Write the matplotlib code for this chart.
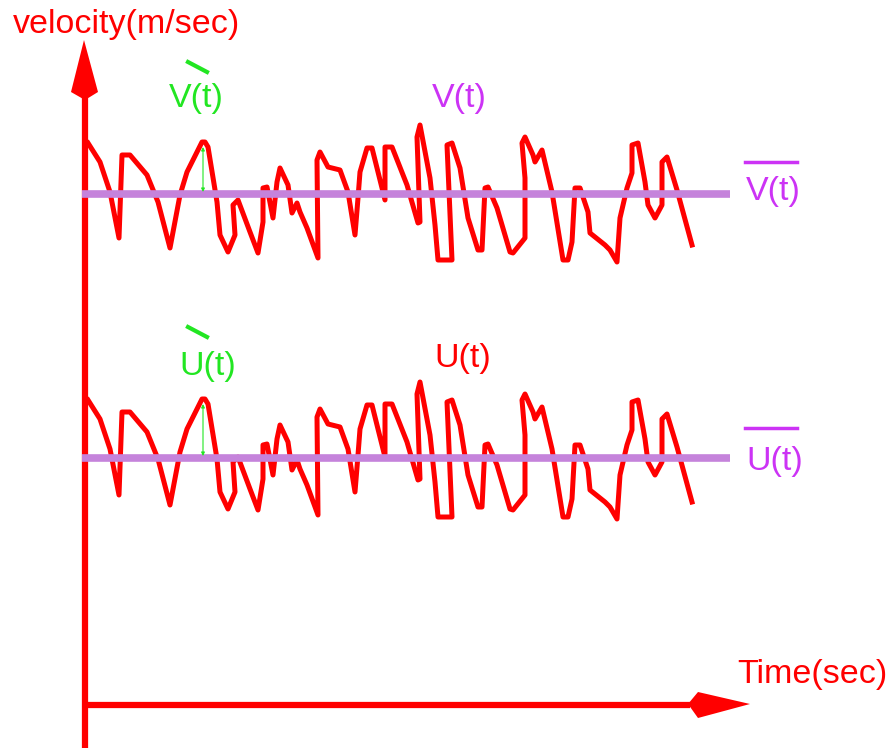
import numpy as np
import matplotlib.pyplot as plt
from matplotlib.patches import Polygon

plt.rcParams['font.family'] = ['Liberation Sans', 'DejaVu Sans']

# wave: time (px) and value (px, screen y of the upper trace)
t = [88, 100, 110, 119, 122, 130, 147, 158, 170, 180, 187, 202, 205, 208, 217, 220,
     228, 235, 233, 238, 250, 258, 263, 263, 267, 273, 277, 280, 288, 292, 297, 300,
     307, 318, 317, 320, 328, 340, 348, 355, 358, 360, 367, 372, 385, 385, 392, 407,
     418, 420, 417, 420, 430, 435, 438, 452, 447, 452, 460, 468, 478, 482, 485, 488,
     497, 510, 513, 525, 525, 522, 525, 533, 535, 542, 552, 563, 568, 572, 575, 580,
     588, 590, 605, 610, 617, 620, 627, 632, 632, 638, 645, 648, 655, 662, 662, 667,
     677, 692]
v = [143, 162, 192, 238, 155, 155, 175, 202, 248, 195, 172, 142, 142, 147, 202, 235,
     252, 235, 205, 200, 232, 253, 222, 188, 187, 218, 182, 168, 185, 213, 203, 212,
     228, 258, 160, 152, 167, 170, 192, 235, 198, 172, 148, 148, 200, 147, 147, 185,
     223, 222, 137, 125, 178, 225, 260, 260, 145, 143, 168, 218, 250, 250, 188, 187,
     208, 252, 253, 238, 178, 143, 137, 155, 162, 150, 192, 260, 260, 242, 188, 188,
     212, 233, 245, 250, 262, 218, 188, 173, 145, 143, 182, 205, 218, 205, 162, 157,
     190, 245]
wave_base = [0, 257]          # shift of upper / lower trace
mean_y = [194, 458]           # mean lines
mean_x = [82, 730]

red = '#ff0000'
green = '#22e622'
purple = '#cc33f5'
meanc = '#c583db'

fig = plt.figure(figsize=(8.93, 7.48), dpi=100)
ax = fig.add_axes([0, 0, 1, 1])
ax.set_xlim(0, 893)
ax.set_ylim(748, 0)
ax.axis('off')

# axes
ax.plot([85, 85], [748, 98], color=red, lw=4.5, solid_capstyle='butt')
ax.add_patch(Polygon([[85, 100], [71, 92], [84, 40], [98, 92]], closed=True, color=red, lw=0))
ax.plot([82, 690], [705, 705], color=red, lw=4.5, solid_capstyle='butt')
ax.add_patch(Polygon([[688, 704], [698, 692], [750, 704], [698, 718]], closed=True, color=red, lw=0))

for b, m in zip(wave_base, mean_y):
    ax.plot(mean_x, [m, m], color=meanc, lw=5.5, solid_capstyle='butt', zorder=3)
    ax.plot(t, np.array(v) + b, color=red, lw=3.6, solid_joinstyle='round', zorder=2)
    ax.annotate('', xy=(203, m - 2), xytext=(203, 147 + b),
                arrowprops=dict(arrowstyle='<|-|>', color=green, lw=0.8,
                                mutation_scale=5, shrinkA=0, shrinkB=0), zorder=4)

fs = 24.5
ax.text(13, 33, 'velocity(m/sec)', color=red, fontsize=fs, ha='left', va='baseline')
ax.text(737, 683, 'Time(sec)', color=red, fontsize=fs, ha='left', va='baseline')

ax.text(169, 107, 'V(t)', color=green, fontsize=fs, ha='left', va='baseline')
ax.plot([188, 207], [62, 72], color=green, lw=3)
ax.text(432, 107, 'V(t)', color=purple, fontsize=fs, ha='left', va='baseline')
ax.text(746, 200, 'V(t)', color=purple, fontsize=fs, ha='left', va='baseline')
ax.plot([745, 797], [162, 162], color=purple, lw=2.5)

ax.text(179, 375, 'U(t)', color=green, fontsize=fs, ha='left', va='baseline')
ax.plot([188, 207], [327, 337], color=green, lw=3)
ax.text(434, 367, 'U(t)', color=red, fontsize=fs, ha='left', va='baseline')
ax.text(746, 470, 'U(t)', color=purple, fontsize=fs, ha='left', va='baseline')
ax.plot([745, 797], [428, 428], color=purple, lw=2.5)

fig.savefig('out.png', dpi=100)
